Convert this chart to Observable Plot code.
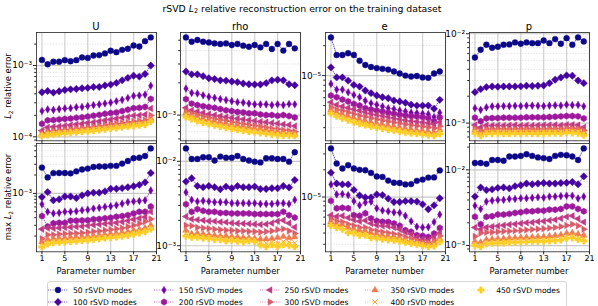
<!DOCTYPE html>
<html><head><meta charset="utf-8">
<script src="https://cdn.jsdelivr.net/npm/d3@7"></script>
<script src="https://cdn.jsdelivr.net/npm/@observablehq/plot@0.6"></script>
<style>
body{margin:0;background:#fff;}
#fig{position:relative;width:598px;height:306px;overflow:hidden;background:#fff;font-family:"DejaVu Sans",sans-serif;color:#000;}
.abs{position:absolute;white-space:nowrap;}
.abs sub{font-size:70%;vertical-align:-0.3em;line-height:0;}
.panel{position:absolute;}
</style></head><body><div id="fig"></div>
<script>
const PARAMS = [1,2,3,4,5,6,7,8,9,10,11,12,13,14,15,16,17,18,19,20];
const MODES = [50,100,150,200,250,300,350,400,450];
const VARIABLES = ["U","rho","e","p"];
const X_TICKS = [1,5,9,13,17,21];

// ---- L2 relative error (top row) ----
const U_L2 = [
 [1.20e-3,1.04e-3,1.13e-3,1.13e-3,1.19e-3,1.15e-3,1.19e-3,1.30e-3,1.28e-3,1.38e-3,1.40e-3,1.48e-3,1.61e-3,1.54e-3,1.66e-3,1.72e-3,1.91e-3,1.85e-3,2.20e-3,2.48e-3],
 [4.21e-4,4.39e-4,4.17e-4,4.35e-4,4.54e-4,4.63e-4,4.69e-4,4.79e-4,4.85e-4,5.00e-4,5.00e-4,5.25e-4,5.40e-4,5.70e-4,6.20e-4,6.70e-4,7.20e-4,7.00e-4,7.60e-4,1.00e-3],
 [2.30e-4,2.42e-4,2.38e-4,2.45e-4,2.50e-4,2.52e-4,2.60e-4,2.62e-4,2.70e-4,2.78e-4,2.85e-4,2.93e-4,3.02e-4,3.15e-4,3.30e-4,3.50e-4,3.75e-4,3.80e-4,3.90e-4,5.20e-4],
 [1.52e-4,1.70e-4,1.72e-4,1.75e-4,1.78e-4,1.80e-4,1.85e-4,1.88e-4,1.92e-4,1.98e-4,2.03e-4,2.10e-4,2.15e-4,2.20e-4,2.30e-4,2.40e-4,2.52e-4,2.55e-4,2.62e-4,3.40e-4],
 [1.22e-4,1.36e-4,1.38e-4,1.40e-4,1.43e-4,1.46e-4,1.50e-4,1.53e-4,1.57e-4,1.60e-4,1.65e-4,1.70e-4,1.75e-4,1.80e-4,1.85e-4,1.90e-4,1.98e-4,2.00e-4,2.05e-4,2.50e-4],
 [1.12e-4,1.20e-4,1.22e-4,1.24e-4,1.26e-4,1.28e-4,1.30e-4,1.33e-4,1.36e-4,1.39e-4,1.42e-4,1.46e-4,1.50e-4,1.53e-4,1.57e-4,1.60e-4,1.65e-4,1.68e-4,1.72e-4,2.00e-4],
 [1.08e-4,1.13e-4,1.15e-4,1.17e-4,1.19e-4,1.21e-4,1.23e-4,1.26e-4,1.28e-4,1.31e-4,1.34e-4,1.37e-4,1.40e-4,1.43e-4,1.46e-4,1.50e-4,1.54e-4,1.57e-4,1.60e-4,1.80e-4],
 [1.05e-4,1.09e-4,1.11e-4,1.13e-4,1.15e-4,1.17e-4,1.19e-4,1.21e-4,1.23e-4,1.26e-4,1.28e-4,1.31e-4,1.34e-4,1.37e-4,1.40e-4,1.43e-4,1.47e-4,1.50e-4,1.53e-4,1.70e-4],
 [1.03e-4,1.06e-4,1.08e-4,1.10e-4,1.12e-4,1.14e-4,1.16e-4,1.18e-4,1.20e-4,1.22e-4,1.25e-4,1.27e-4,1.30e-4,1.33e-4,1.36e-4,1.39e-4,1.42e-4,1.45e-4,1.48e-4,1.63e-4]
];
const RHO_L2 = [
 [5.31e-3,4.84e-3,5.02e-3,4.84e-3,4.77e-3,4.67e-3,4.61e-3,4.67e-3,4.51e-3,4.61e-3,4.45e-3,4.35e-3,4.51e-3,4.29e-3,4.61e-3,4.14e-3,4.61e-3,4.00e-3,4.61e-3,4.20e-3],
 [2.55e-3,2.40e-3,2.40e-3,2.31e-3,2.21e-3,2.17e-3,2.11e-3,2.10e-3,2.06e-3,2.03e-3,1.97e-3,1.94e-3,1.93e-3,1.93e-3,1.99e-3,2.11e-3,2.14e-3,2.11e-3,1.94e-3,1.90e-3],
 [1.77e-3,1.61e-3,1.59e-3,1.53e-3,1.48e-3,1.45e-3,1.41e-3,1.38e-3,1.35e-3,1.32e-3,1.31e-3,1.28e-3,1.26e-3,1.26e-3,1.26e-3,1.24e-3,1.26e-3,1.24e-3,1.27e-3,1.26e-3],
 [1.41e-3,1.28e-3,1.24e-3,1.21e-3,1.19e-3,1.17e-3,1.14e-3,1.11e-3,1.09e-3,1.07e-3,1.06e-3,1.04e-3,1.04e-3,1.015e-3,1.00e-3,1.00e-3,9.85e-4,1.00e-3,9.80e-4,9.50e-4],
 [1.17e-3,1.11e-3,1.08e-3,1.05e-3,1.02e-3,1.00e-3,9.80e-4,9.60e-4,9.45e-4,9.30e-4,9.15e-4,9.00e-4,8.85e-4,8.70e-4,8.60e-4,8.45e-4,8.35e-4,8.20e-4,8.10e-4,7.90e-4],
 [1.09e-3,1.04e-3,1.00e-3,9.70e-4,9.45e-4,9.20e-4,9.00e-4,8.80e-4,8.60e-4,8.40e-4,8.25e-4,8.10e-4,7.95e-4,7.80e-4,7.65e-4,7.50e-4,7.40e-4,7.25e-4,7.15e-4,7.00e-4],
 [1.04e-3,9.90e-4,9.50e-4,9.20e-4,8.95e-4,8.70e-4,8.50e-4,8.30e-4,8.10e-4,7.95e-4,7.80e-4,7.65e-4,7.50e-4,7.40e-4,7.25e-4,7.15e-4,7.00e-4,6.90e-4,6.85e-4,6.75e-4],
 [1.00e-3,9.50e-4,9.10e-4,8.80e-4,8.55e-4,8.30e-4,8.10e-4,7.90e-4,7.75e-4,7.60e-4,7.45e-4,7.30e-4,7.20e-4,7.10e-4,6.95e-4,6.85e-4,6.75e-4,6.65e-4,6.60e-4,6.50e-4],
 [9.60e-4,9.20e-4,8.80e-4,8.50e-4,8.25e-4,8.00e-4,7.80e-4,7.60e-4,7.45e-4,7.30e-4,7.15e-4,7.00e-4,6.90e-4,6.80e-4,6.70e-4,6.60e-4,6.50e-4,6.45e-4,6.45e-4,6.40e-4]
];
const E_L2 = [
 [2.42e-5,1.61e-5,1.61e-5,1.68e-5,1.61e-5,1.41e-5,1.28e-5,1.22e-5,1.19e-5,1.17e-5,1.15e-5,1.10e-5,1.05e-5,1.00e-5,9.80e-6,9.90e-6,9.60e-6,9.50e-6,1.05e-5,1.10e-5],
 [1.21e-5,9.60e-6,9.60e-6,8.90e-6,8.07e-6,7.76e-6,7.08e-6,6.66e-6,6.31e-6,6.07e-6,5.93e-6,5.62e-6,5.50e-6,5.33e-6,5.10e-6,5.00e-6,5.00e-6,5.00e-6,4.64e-6,5.71e-6],
 [8.25e-6,7.24e-6,7.24e-6,6.80e-6,6.40e-6,6.07e-6,5.60e-6,5.28e-6,5.10e-6,4.90e-6,4.70e-6,4.62e-6,4.47e-6,4.37e-6,4.24e-6,4.20e-6,4.15e-6,4.10e-6,3.83e-6,4.24e-6],
 [6.31e-6,6.07e-6,5.75e-6,5.50e-6,5.20e-6,5.00e-6,4.70e-6,4.57e-6,4.47e-6,4.37e-6,4.24e-6,4.14e-6,4.05e-6,3.98e-6,3.92e-6,3.89e-6,3.83e-6,3.74e-6,3.47e-6,3.80e-6],
 [5.40e-6,5.10e-6,4.90e-6,4.75e-6,4.60e-6,4.45e-6,4.30e-6,4.15e-6,4.05e-6,3.95e-6,3.85e-6,3.75e-6,3.66e-6,3.58e-6,3.50e-6,3.45e-6,3.40e-6,3.35e-6,3.25e-6,3.40e-6],
 [4.80e-6,4.55e-6,4.40e-6,4.25e-6,4.10e-6,3.95e-6,3.85e-6,3.72e-6,3.62e-6,3.53e-6,3.45e-6,3.38e-6,3.30e-6,3.23e-6,3.17e-6,3.12e-6,3.07e-6,3.02e-6,2.95e-6,3.10e-6],
 [4.50e-6,4.25e-6,4.05e-6,3.90e-6,3.75e-6,3.60e-6,3.48e-6,3.37e-6,3.28e-6,3.20e-6,3.12e-6,3.05e-6,2.98e-6,2.92e-6,2.86e-6,2.81e-6,2.77e-6,2.72e-6,2.67e-6,2.85e-6],
 [4.30e-6,4.05e-6,3.85e-6,3.70e-6,3.55e-6,3.42e-6,3.30e-6,3.20e-6,3.12e-6,3.04e-6,2.97e-6,2.90e-6,2.84e-6,2.78e-6,2.73e-6,2.69e-6,2.65e-6,2.60e-6,2.56e-6,2.70e-6],
 [4.15e-6,3.90e-6,3.70e-6,3.55e-6,3.40e-6,3.28e-6,3.18e-6,3.08e-6,3.00e-6,2.93e-6,2.86e-6,2.80e-6,2.74e-6,2.69e-6,2.64e-6,2.60e-6,2.56e-6,2.52e-6,2.48e-6,2.60e-6]
];
const P_L2 = [
 [5.43e-3,6.62e-3,7.54e-3,6.97e-3,7.16e-3,7.54e-3,7.60e-3,8.00e-3,7.73e-3,8.00e-3,7.85e-3,7.85e-3,8.41e-3,7.85e-3,8.71e-3,7.73e-3,8.93e-3,7.54e-3,9.10e-3,8.20e-3],
 [2.22e-3,2.40e-3,2.53e-3,2.57e-3,2.55e-3,2.57e-3,2.57e-3,2.57e-3,2.58e-3,2.62e-3,2.60e-3,2.62e-3,2.64e-3,2.80e-3,3.06e-3,3.24e-3,3.42e-3,3.39e-3,3.00e-3,2.80e-3],
 [1.47e-3,1.41e-3,1.50e-3,1.54e-3,1.54e-3,1.55e-3,1.55e-3,1.56e-3,1.55e-3,1.57e-3,1.57e-3,1.56e-3,1.55e-3,1.57e-3,1.58e-3,1.57e-3,1.61e-3,1.59e-3,1.60e-3,1.54e-3],
 [1.15e-3,1.05e-3,1.13e-3,1.14e-3,1.14e-3,1.15e-3,1.15e-3,1.15e-3,1.15e-3,1.16e-3,1.16e-3,1.16e-3,1.16e-3,1.17e-3,1.18e-3,1.19e-3,1.20e-3,1.20e-3,1.19e-3,1.13e-3],
 [9.50e-4,8.95e-4,9.45e-4,9.40e-4,9.45e-4,9.40e-4,9.45e-4,9.50e-4,9.40e-4,9.45e-4,9.40e-4,9.45e-4,9.50e-4,9.50e-4,9.55e-4,9.45e-4,9.60e-4,9.60e-4,9.50e-4,9.00e-4],
 [8.70e-4,8.20e-4,8.60e-4,8.60e-4,8.65e-4,8.60e-4,8.60e-4,8.65e-4,8.60e-4,8.65e-4,8.60e-4,8.60e-4,8.65e-4,8.70e-4,8.70e-4,8.65e-4,8.80e-4,8.75e-4,8.70e-4,8.30e-4],
 [8.30e-4,7.80e-4,8.20e-4,8.20e-4,8.25e-4,8.20e-4,8.20e-4,8.25e-4,8.20e-4,8.25e-4,8.20e-4,8.20e-4,8.25e-4,8.30e-4,8.30e-4,8.25e-4,8.40e-4,8.35e-4,8.30e-4,7.90e-4],
 [8.00e-4,7.50e-4,7.90e-4,7.90e-4,7.95e-4,7.90e-4,7.90e-4,7.95e-4,7.90e-4,7.95e-4,7.90e-4,7.90e-4,7.95e-4,8.00e-4,8.00e-4,7.95e-4,8.10e-4,8.05e-4,8.00e-4,7.60e-4],
 [7.70e-4,7.20e-4,7.60e-4,7.60e-4,7.65e-4,7.60e-4,7.60e-4,7.65e-4,7.60e-4,7.65e-4,7.60e-4,7.60e-4,7.65e-4,7.70e-4,7.70e-4,7.65e-4,7.80e-4,7.75e-4,7.70e-4,7.30e-4]
];

// ---- max L2 relative error (bottom row) ----
const U_MAX = [
 [2.65e-3,1.83e-3,2.15e-3,2.16e-3,2.16e-3,2.13e-3,2.30e-3,2.47e-3,2.55e-3,2.72e-3,2.76e-3,2.76e-3,2.83e-3,2.83e-3,3.08e-3,3.40e-3,3.77e-3,3.85e-3,4.10e-3,5.46e-3],
 [8.70e-4,1.05e-3,7.70e-4,8.00e-4,8.90e-4,8.90e-4,8.40e-4,9.30e-4,1.00e-3,1.03e-3,1.03e-3,1.08e-3,1.19e-3,1.19e-3,1.22e-3,1.26e-3,1.31e-3,1.38e-3,1.52e-3,2.16e-3],
 [6.65e-4,5.00e-4,4.70e-4,4.80e-4,5.00e-4,5.00e-4,5.10e-4,5.30e-4,5.40e-4,5.66e-4,5.80e-4,6.00e-4,6.15e-4,6.40e-4,6.80e-4,7.20e-4,7.40e-4,7.50e-4,7.70e-4,1.12e-3],
 [4.25e-4,2.86e-4,3.24e-4,3.30e-4,3.30e-4,3.57e-4,3.57e-4,3.60e-4,3.62e-4,3.77e-4,3.80e-4,3.90e-4,4.00e-4,4.15e-4,4.25e-4,4.40e-4,4.70e-4,5.00e-4,5.00e-4,6.10e-4],
 [2.60e-4,2.70e-4,2.68e-4,2.72e-4,2.76e-4,2.80e-4,2.85e-4,2.88e-4,2.95e-4,3.05e-4,3.10e-4,3.18e-4,3.25e-4,3.30e-4,3.42e-4,3.55e-4,3.75e-4,3.90e-4,4.10e-4,5.00e-4],
 [1.80e-4,2.10e-4,2.10e-4,2.15e-4,2.18e-4,2.20e-4,2.22e-4,2.25e-4,2.30e-4,2.37e-4,2.42e-4,2.50e-4,2.55e-4,2.62e-4,2.70e-4,2.85e-4,3.00e-4,3.20e-4,3.45e-4,3.80e-4],
 [1.60e-4,1.75e-4,1.80e-4,1.82e-4,1.85e-4,1.88e-4,1.90e-4,1.93e-4,1.97e-4,2.00e-4,2.05e-4,2.10e-4,2.15e-4,2.20e-4,2.27e-4,2.35e-4,2.45e-4,2.55e-4,2.70e-4,3.00e-4],
 [1.38e-4,1.52e-4,1.60e-4,1.64e-4,1.66e-4,1.68e-4,1.72e-4,1.75e-4,1.79e-4,1.83e-4,1.88e-4,1.93e-4,1.97e-4,2.02e-4,2.08e-4,2.15e-4,2.25e-4,2.35e-4,2.48e-4,2.75e-4],
 [1.33e-4,1.48e-4,1.55e-4,1.58e-4,1.60e-4,1.62e-4,1.65e-4,1.68e-4,1.72e-4,1.75e-4,1.80e-4,1.85e-4,1.88e-4,1.93e-4,1.98e-4,2.05e-4,2.15e-4,2.25e-4,2.35e-4,2.60e-4]
];
const RHO_MAX = [
 [1.42e-2,1.065e-2,1.065e-2,1.115e-2,1.115e-2,1.02e-2,1.136e-2,1.10e-2,1.10e-2,1.155e-2,1.065e-2,1.02e-2,9.90e-3,9.70e-3,1.085e-2,1.085e-2,1.065e-2,1.065e-2,9.90e-3,1.28e-2],
 [5.75e-3,6.30e-3,5.10e-3,4.93e-3,5.10e-3,4.93e-3,4.67e-3,5.02e-3,4.80e-3,5.10e-3,4.93e-3,4.93e-3,5.02e-3,4.70e-3,4.70e-3,4.80e-3,4.80e-3,5.10e-3,4.90e-3,6.00e-3],
 [4.30e-3,3.49e-3,3.34e-3,3.40e-3,3.34e-3,3.28e-3,3.28e-3,3.28e-3,3.19e-3,3.19e-3,3.19e-3,3.19e-3,3.19e-3,3.13e-3,3.13e-3,3.13e-3,3.19e-3,3.19e-3,3.13e-3,3.49e-3],
 [3.10e-3,2.52e-3,2.71e-3,2.59e-3,2.52e-3,2.52e-3,2.45e-3,2.45e-3,2.41e-3,2.41e-3,2.41e-3,2.41e-3,2.37e-3,2.37e-3,2.37e-3,2.37e-3,2.37e-3,2.52e-3,2.30e-3,2.16e-3],
 [2.22e-3,2.07e-3,2.03e-3,2.00e-3,1.96e-3,1.95e-3,1.91e-3,1.90e-3,1.86e-3,1.84e-3,1.83e-3,1.82e-3,1.80e-3,1.78e-3,1.80e-3,1.85e-3,1.95e-3,2.00e-3,1.85e-3,1.66e-3],
 [1.74e-3,1.72e-3,1.65e-3,1.62e-3,1.60e-3,1.57e-3,1.55e-3,1.53e-3,1.52e-3,1.50e-3,1.50e-3,1.48e-3,1.47e-3,1.45e-3,1.47e-3,1.50e-3,1.55e-3,1.58e-3,1.50e-3,1.40e-3],
 [1.52e-3,1.38e-3,1.40e-3,1.37e-3,1.35e-3,1.33e-3,1.30e-3,1.30e-3,1.28e-3,1.27e-3,1.25e-3,1.24e-3,1.22e-3,1.20e-3,1.20e-3,1.22e-3,1.25e-3,1.28e-3,1.24e-3,1.27e-3],
 [1.42e-3,1.32e-3,1.32e-3,1.30e-3,1.28e-3,1.26e-3,1.24e-3,1.22e-3,1.22e-3,1.20e-3,1.18e-3,1.18e-3,1.16e-3,1.10e-3,1.07e-3,1.10e-3,1.08e-3,1.12e-3,1.10e-3,1.08e-3],
 [1.30e-3,1.26e-3,1.26e-3,1.23e-3,1.22e-3,1.18e-3,1.18e-3,1.14e-3,1.16e-3,1.13e-3,1.11e-3,1.14e-3,1.12e-3,1.02e-3,9.70e-4,1.03e-3,9.80e-4,1.03e-3,1.01e-3,9.70e-4]
];
const E_MAX = [
 [3.45e-5,2.35e-5,2.07e-5,2.25e-5,2.07e-5,2.00e-5,1.98e-5,1.85e-5,1.69e-5,1.67e-5,1.52e-5,1.44e-5,1.43e-5,1.38e-5,1.39e-5,1.51e-5,1.56e-5,1.64e-5,1.65e-5,1.97e-5],
 [1.86e-5,1.41e-5,1.38e-5,1.38e-5,1.20e-5,1.04e-5,9.90e-6,9.90e-6,1.07e-5,1.05e-5,9.60e-6,8.80e-6,8.80e-6,9.00e-6,9.00e-6,8.90e-6,8.30e-6,7.32e-6,8.10e-6,9.70e-6],
 [1.38e-5,1.07e-5,1.08e-5,1.05e-5,9.00e-6,8.10e-6,8.70e-6,8.90e-6,7.50e-6,7.10e-6,6.94e-6,6.76e-6,6.70e-6,6.20e-6,5.40e-6,4.70e-6,4.60e-6,4.65e-6,5.30e-6,6.40e-6],
 [9.07e-6,7.50e-6,7.60e-6,7.50e-6,6.30e-6,6.20e-6,6.60e-6,5.80e-6,5.44e-6,5.33e-6,5.30e-6,5.10e-6,4.81e-6,4.30e-6,4.12e-6,3.78e-6,3.72e-6,3.62e-6,3.95e-6,4.55e-6],
 [6.30e-6,6.10e-6,6.20e-6,5.90e-6,5.60e-6,5.40e-6,5.50e-6,5.10e-6,4.90e-6,4.80e-6,4.75e-6,4.60e-6,4.40e-6,4.10e-6,3.90e-6,3.60e-6,3.40e-6,3.35e-6,3.60e-6,4.00e-6],
 [5.70e-6,5.40e-6,5.30e-6,5.00e-6,4.80e-6,4.60e-6,4.60e-6,4.35e-6,4.20e-6,4.10e-6,4.00e-6,3.90e-6,3.80e-6,3.60e-6,3.45e-6,3.30e-6,3.15e-6,3.10e-6,3.30e-6,3.70e-6],
 [5.30e-6,5.00e-6,4.90e-6,4.60e-6,4.40e-6,4.25e-6,4.20e-6,4.00e-6,3.85e-6,3.75e-6,3.65e-6,3.60e-6,3.50e-6,3.35e-6,3.25e-6,3.15e-6,3.05e-6,3.00e-6,3.10e-6,3.45e-6],
 [5.00e-6,4.75e-6,4.60e-6,4.30e-6,4.15e-6,4.00e-6,3.95e-6,3.75e-6,3.62e-6,3.55e-6,3.47e-6,3.42e-6,3.35e-6,3.22e-6,3.14e-6,3.06e-6,2.97e-6,2.90e-6,2.98e-6,3.30e-6],
 [4.81e-6,4.57e-6,4.40e-6,4.02e-6,4.00e-6,3.78e-6,3.78e-6,3.54e-6,3.50e-6,3.41e-6,3.35e-6,3.33e-6,3.25e-6,3.14e-6,3.06e-6,2.98e-6,2.89e-6,2.81e-6,2.86e-6,3.19e-6]
];
const P_MAX = [
 [1.23e-2,1.23e-2,1.20e-2,1.35e-2,1.35e-2,1.32e-2,1.50e-2,1.50e-2,1.53e-2,1.61e-2,1.53e-2,1.46e-2,1.43e-2,1.39e-2,1.53e-2,1.58e-2,1.56e-2,1.50e-2,1.35e-2,1.92e-2],
 [4.43e-3,5.85e-3,5.40e-3,5.52e-3,5.78e-3,5.85e-3,5.69e-3,6.09e-3,6.27e-3,6.60e-3,6.45e-3,6.60e-3,6.71e-3,6.60e-3,6.60e-3,6.70e-3,6.75e-3,6.92e-3,6.45e-3,8.20e-3],
 [3.36e-3,3.04e-3,3.81e-3,3.93e-3,4.01e-3,4.01e-3,4.13e-3,4.13e-3,4.22e-3,4.22e-3,4.27e-3,4.35e-3,4.30e-3,4.43e-3,4.43e-3,4.50e-3,4.55e-3,4.55e-3,4.20e-3,4.43e-3],
 [2.40e-3,1.91e-3,2.40e-3,2.44e-3,2.57e-3,2.57e-3,2.62e-3,2.70e-3,2.75e-3,2.83e-3,2.83e-3,2.89e-3,2.89e-3,2.98e-3,2.98e-3,3.04e-3,3.29e-3,3.29e-3,3.04e-3,2.83e-3],
 [1.73e-3,1.64e-3,1.74e-3,1.78e-3,1.81e-3,1.85e-3,1.89e-3,1.92e-3,1.96e-3,2.00e-3,2.02e-3,2.07e-3,2.10e-3,2.15e-3,2.19e-3,2.28e-3,2.40e-3,2.47e-3,2.26e-3,2.04e-3],
 [1.32e-3,1.46e-3,1.49e-3,1.50e-3,1.52e-3,1.54e-3,1.55e-3,1.57e-3,1.59e-3,1.61e-3,1.63e-3,1.65e-3,1.67e-3,1.70e-3,1.73e-3,1.78e-3,1.84e-3,1.91e-3,1.82e-3,1.64e-3],
 [1.13e-3,1.10e-3,1.20e-3,1.22e-3,1.23e-3,1.24e-3,1.25e-3,1.26e-3,1.27e-3,1.28e-3,1.29e-3,1.30e-3,1.31e-3,1.33e-3,1.35e-3,1.38e-3,1.45e-3,1.47e-3,1.42e-3,1.36e-3],
 [1.06e-3,1.03e-3,1.12e-3,1.14e-3,1.15e-3,1.16e-3,1.17e-3,1.18e-3,1.19e-3,1.20e-3,1.21e-3,1.22e-3,1.23e-3,1.24e-3,1.25e-3,1.28e-3,1.35e-3,1.37e-3,1.30e-3,1.25e-3],
 [1.00e-3,9.60e-4,1.05e-3,1.07e-3,1.08e-3,1.08e-3,1.10e-3,1.10e-3,1.11e-3,1.12e-3,1.13e-3,1.13e-3,1.14e-3,1.15e-3,1.16e-3,1.18e-3,1.25e-3,1.26e-3,1.20e-3,1.15e-3]
];

const DATA = {U: [U_L2, U_MAX], rho: [RHO_L2, RHO_MAX], e: [E_L2, E_MAX], p: [P_L2, P_MAX]};

// ---- styling / layout ----
const COLORS = MODES.map((m, i) => d3.interpolatePlasma(i * 0.1125));
const poly = pts => ({draw(ctx, size) {
  const r = Math.sqrt(size / Math.PI);
  pts.forEach(([x, y], i) => i ? ctx.lineTo(x * r, y * r) : ctx.moveTo(x * r, y * r));
  ctx.closePath();
}});
const hex = d3.range(6).map(i => [1.1 * Math.sin(i * Math.PI / 3), -1.1 * Math.cos(i * Math.PI / 3)]);
const SYM_X = {draw(ctx, size) { const a = Math.sqrt(size / Math.PI) * 0.85;
  ctx.moveTo(-a, -a); ctx.lineTo(a, a); ctx.moveTo(-a, a); ctx.lineTo(a, -a); }};
const pw = 0.4, pl = 1.1;
const SYMBOLS = [
  {sym: d3.symbolCircle, hollow: false},
  {sym: poly([[0,-1.25],[1.25,0],[0,1.25],[-1.25,0]]), hollow: false},
  {sym: poly([[0,-1.3],[0.75,0],[0,1.3],[-0.75,0]]), hollow: false},
  {sym: poly(hex), hollow: false},
  {sym: poly([[-1.3,0],[0.65,-1.13],[0.65,1.13]]), hollow: false},
  {sym: poly([[1.3,0],[-0.65,-1.13],[-0.65,1.13]]), hollow: false},
  {sym: poly([[0,-1.3],[1.13,0.65],[-1.13,0.65]]), hollow: false},
  {sym: SYM_X, hollow: true},
  {sym: poly([[-pw,-pl],[pw,-pl],[pw,-pw],[pl,-pw],[pl,pw],[pw,pw],[pw,pl],[-pw,pl],[-pw,pw],[-pl,pw],[-pl,-pw],[-pw,-pw]]), hollow: false}
];
const R = 2.95;
const COL_LEFT = [36, 180.3, 324.7, 469], PANEL_W = 120;
const ROW_TOP = [32, 143.2], PANEL_H = 108.3;
const ML = 40, MR = 6, MT = 6, MB = 16;

const SUP = {"-": "\u207B", "0": "\u2070", "1": "\u00B9", "2": "\u00B2", "3": "\u00B3", "4": "\u2074", "5": "\u2075", "6": "\u2076", "7": "\u2077", "8": "\u2078", "9": "\u2079"};
const pow10 = v => "10" + String(Math.round(Math.log10(v))).split("").map(c => SUP[c]).join("");

function makePanel(series, row) {
  const rows = [];
  series.forEach((s, i) => s.forEach((v, j) => rows.push({param: PARAMS[j], value: v, k: i})));
  const lo = d3.min(rows, d => d.value), hi = d3.max(rows, d => d.value);
  const pad = 0.05 * Math.log10(hi / lo);
  const domain = [lo / Math.pow(10, pad), hi * Math.pow(10, pad)];
  const decades = [], minors = [];
  for (let k = Math.floor(Math.log10(domain[0])) - 1; k <= Math.ceil(Math.log10(domain[1])); k++) {
    for (let m = 1; m < 10; m++) {
      const t = m * Math.pow(10, k);
      if (t >= domain[0] && t <= domain[1]) (m === 1 ? decades : minors).push(t);
    }
  }
  const marks = [
    Plot.ruleX(X_TICKS, {stroke: "#b0b0b0", strokeOpacity: 0.6, strokeWidth: 1.2}),
    Plot.ruleY(minors, {stroke: "#b0b0b0", strokeOpacity: 0.6, strokeWidth: 0.6, strokeDasharray: "1.2,1.6"}),
    Plot.ruleY(decades, {stroke: "#b0b0b0", strokeOpacity: 0.7, strokeWidth: 1.2})
  ];
  MODES.forEach((m, i) => {
    const d = rows.filter(r => r.k === i);
    marks.push(Plot.line(d, {x: "param", y: "value", stroke: COLORS[i], strokeWidth: 0.7, strokeDasharray: "0.9,1.4"}));
    const s = SYMBOLS[i];
    marks.push(Plot.dot(d, {x: "param", y: "value", symbol: s.sym, r: R,
      fill: s.hollow ? "none" : COLORS[i], stroke: COLORS[i], strokeWidth: s.hollow ? 1 : 0.4}));
  });
  marks.push(Plot.frame({stroke: "#222", strokeWidth: 0.8}));
  marks.push(Plot.axisY(decades, {tickSize: 3, tickPadding: 1.5, tickFormat: pow10, fontSize: 9, label: null, stroke: "#222"}));
  marks.push(Plot.axisY(minors, {tickSize: 1.8, tickFormat: () => "", label: null, stroke: "#222"}));
  marks.push(Plot.axisX(X_TICKS, {tickSize: 3, tickPadding: 1, tickFormat: row ? d => String(d) : () => "", fontSize: 8, label: null, stroke: "#222"}));
  return Plot.plot({
    width: PANEL_W + ML + MR, height: PANEL_H + MT + MB,
    marginLeft: ML, marginRight: MR, marginTop: MT, marginBottom: MB,
    x: {domain: [0.05, 21], label: null},
    y: {type: "log", domain, label: null},
    style: {background: "transparent", overflow: "visible", fontFamily: "DejaVu Sans", fontSize: "8px", color: "#000"},
    marks
  });
}

const fig = document.getElementById("fig");
function addText(html, css) {
  const el = document.createElement("div");
  el.className = "abs"; el.innerHTML = html; el.style.cssText += css; fig.appendChild(el); return el;
}

addText('rSVD <i>L</i><sub>2</sub> relative reconstruction error on the training dataset',
  'left:302px;top:8px;transform:translate(-50%,-50%);font-size:9.3px;');

VARIABLES.forEach((name, c) => {
  const cx = COL_LEFT[c] + PANEL_W / 2;
  addText(name, `left:${cx}px;top:26px;transform:translate(-50%,-50%);font-size:10px;`);
  [0, 1].forEach(r => {
    const svg = makePanel(DATA[name][r], r);
    const wrap = document.createElement("div");
    wrap.className = "panel";
    wrap.style.left = (COL_LEFT[c] - ML) + "px";
    wrap.style.top = (ROW_TOP[r] - MT) + "px";
    wrap.appendChild(svg);
    fig.appendChild(wrap);
  });
  addText("Parameter number", `left:${cx}px;top:271px;transform:translate(-50%,-50%);font-size:8.4px;`);
});

addText('<i>L</i><sub>2</sub> relative error', `left:8px;top:${ROW_TOP[0] + PANEL_H / 2}px;transform:translate(-50%,-50%) rotate(-90deg);font-size:8.4px;`);
addText('max <i>L</i><sub>2</sub> relative error', `left:8px;top:${ROW_TOP[1] + PANEL_H / 2}px;transform:translate(-50%,-50%) rotate(-90deg);font-size:8.4px;`);

// ---- legend ----
const legend = document.createElement("div");
legend.className = "abs";
legend.style.cssText += "left:47px;top:281px;width:518px;height:34px;border:1px solid #d6d6d6;border-radius:3px;background:rgba(255,255,255,0.8);";
fig.appendChild(legend);
MODES.forEach((m, i) => {
  const col = Math.floor(i / 2), row = i % 2;
  const hx = 10 + col * 105.8, hy = 7.5 + row * 12.5;
  const svg = d3.create("svg").attr("width", 24).attr("height", 12)
    .style("position", "absolute").style("left", (hx - 12) + "px").style("top", (hy - 6) + "px").style("overflow", "visible");
  svg.append("line").attr("x1", 2).attr("x2", 22).attr("y1", 6).attr("y2", 6)
    .attr("stroke", COLORS[i]).attr("stroke-width", 0.7).attr("stroke-dasharray", "0.9,1.4");
  const s = SYMBOLS[i];
  svg.append("path").attr("transform", "translate(12,6)").attr("d", d3.symbol(s.sym, Math.PI * R * R)())
    .attr("fill", s.hollow ? "none" : COLORS[i]).attr("stroke", COLORS[i]).attr("stroke-width", s.hollow ? 1 : 0.4);
  legend.appendChild(svg.node());
  const t = document.createElement("div");
  t.className = "abs";
  t.textContent = `${m} rSVD modes`;
  t.style.cssText += `left:${hx + 15}px;top:${hy}px;transform:translateY(-50%);font-size:7.6px;`;
  legend.appendChild(t);
});
</script></body></html>
